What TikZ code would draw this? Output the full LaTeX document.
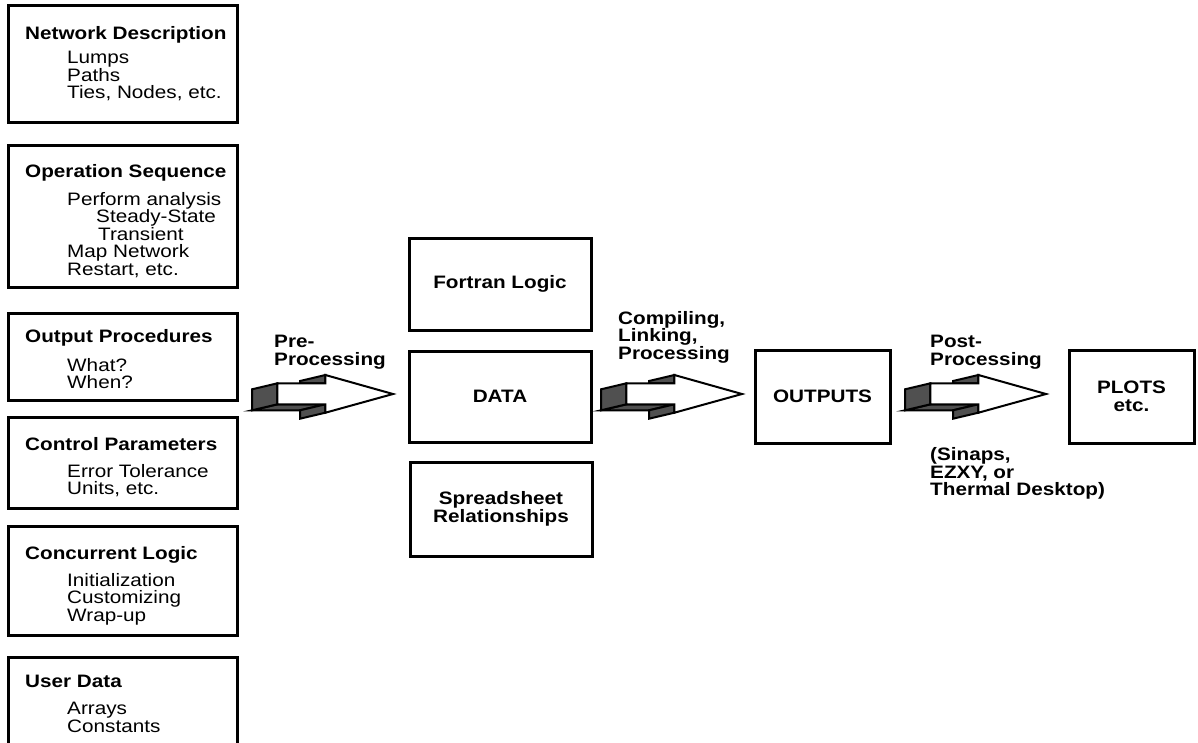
\documentclass[tikz,border=0pt]{standalone}
\usepackage{fontspec}
\setmainfont{Liberation Sans}[FakeStretch=1.15]
\definecolor{darkface}{HTML}{505050}
\newcommand{\bodyfont}{\fontsize{18pt}{17.5pt}\selectfont\lineskiplimit=-20pt\relax}
\tikzset{
  frame/.style={draw, line width=3pt, inner sep=0pt},
  ttl/.style={anchor=base west, inner sep=0pt, font=\bodyfont\bfseries},
  sub/.style={anchor=north west, inner sep=0pt, align=left, font=\bodyfont},
  lbl/.style={anchor=north west, inner sep=0pt, align=left, font=\bodyfont\bfseries},
  mid/.style={frame, align=center, font=\bodyfont\bfseries},
  face/.style={fill=darkface, draw=black, line width=2pt},
  front/.style={fill=white, draw=black, line width=2pt},
  bigarrow/.pic={
    \path[face] (25.4,10.3) -- (73.4,10.3) -- (48,16.3) -- (0,16.3) -- cycle;
    \path[face] (0,-4.7) -- (25.4,-10.7) -- (25.4,10.3) -- (0,16.3) -- cycle;
    \path[face] (73.4,-19) -- (48,-13) -- (48,-10.7) -- (73.4,-10.7) -- cycle;
    \path[face] (73.4,10.3) -- (73.4,18.7) -- (48,24.7) -- (48,16.3) -- cycle;
    \path[front] (25.4,-10.7) -- (73.4,-10.7) -- (73.4,-19) -- (141,0)
      -- (73.4,18.7) -- (73.4,10.3) -- (25.4,10.3) -- cycle;
  }
}
\begin{document}
\begin{tikzpicture}[x=1pt,y=-1pt]
\clip (0,0) rectangle (1198,742);
\fill[white] (0,0) rectangle (1198,742);

% left column boxes
\node[frame, minimum width=229pt, minimum height=117pt] (b1) at (122.5,63.5) {};
\node[frame, minimum width=229pt, minimum height=142pt] (b2) at (122.5,216) {};
\node[frame, minimum width=229pt, minimum height=87pt] (b3) at (122.5,356.5) {};
\node[frame, minimum width=229pt, minimum height=91pt] (b4) at (122.5,462.5) {};
\node[frame, minimum width=229pt, minimum height=109pt] (b5) at (122.5,580.5) {};
\node[frame, minimum width=229pt, minimum height=123pt] (b6) at (122.5,718.5) {};

% list tops = first baseline - 12.8
\node[ttl] (t1) at (25,39) {Network Description};
\node[sub] (l1) at (67,51.2) {Lumps\\Paths\\Ties, Nodes, etc.};

\node[ttl] (t2) at (25,177) {Operation Sequence};
\node[sub] (l2) at (67,192.2)
  {Perform analysis\\\hspace*{29pt}Steady-State\\\hspace*{31pt}Transient\\Map Network\\Restart, etc.};

\node[ttl] (t3) at (25,342) {Output Procedures};
\node[sub] (l3) at (67,358.2) {What?\\When?};

\node[ttl] (t4) at (25,450) {Control Parameters};
\node[sub] (l4) at (67,464.2) {Error Tolerance\\Units, etc.};

\node[ttl] (t5) at (25,559) {Concurrent Logic};
\node[sub] (l5) at (67,573.2) {Initialization\\Customizing\\Wrap-up};

\node[ttl] (t6) at (25,687) {User Data};
\node[sub] (l6) at (67,702.2) {Arrays\\Constants};

% middle boxes
\node[mid, minimum width=182pt, minimum height=92pt] (fortran) at (500,284) {Fortran Logic};
\node[mid, minimum width=182pt, minimum height=91pt] (data) at (500,396.5) {DATA};
\node[mid, minimum width=182pt, minimum height=94pt] (sheet) at (501,509) {Spreadsheet\\Relationships};
\node[mid, minimum width=135pt, minimum height=93pt] (outputs) at (822.5,396.5) {OUTPUTS};
\node[mid, minimum width=125pt, minimum height=93pt] (plots) at (1131.5,396.5) {PLOTS\\etc.};

% block arrows
\pic (preArrow) at (252,394) {bigarrow};
\pic (compArrow) at (601,394) {bigarrow};
\pic (postArrow) at (905,394) {bigarrow};

% arrow labels
\node[lbl] (preLbl) at (274,335.1) {Pre-\\Processing};
\node[lbl] (cmpLbl) at (618,311.2) {Compiling,\\Linking,\\Processing};
\node[lbl] (pstLbl) at (930,335.1) {Post-\\Processing};
\node[lbl] (toolLbl) at (930,447.5) {(Sinaps,\\EZXY, or\\Thermal Desktop)};
\end{tikzpicture}
\end{document}
